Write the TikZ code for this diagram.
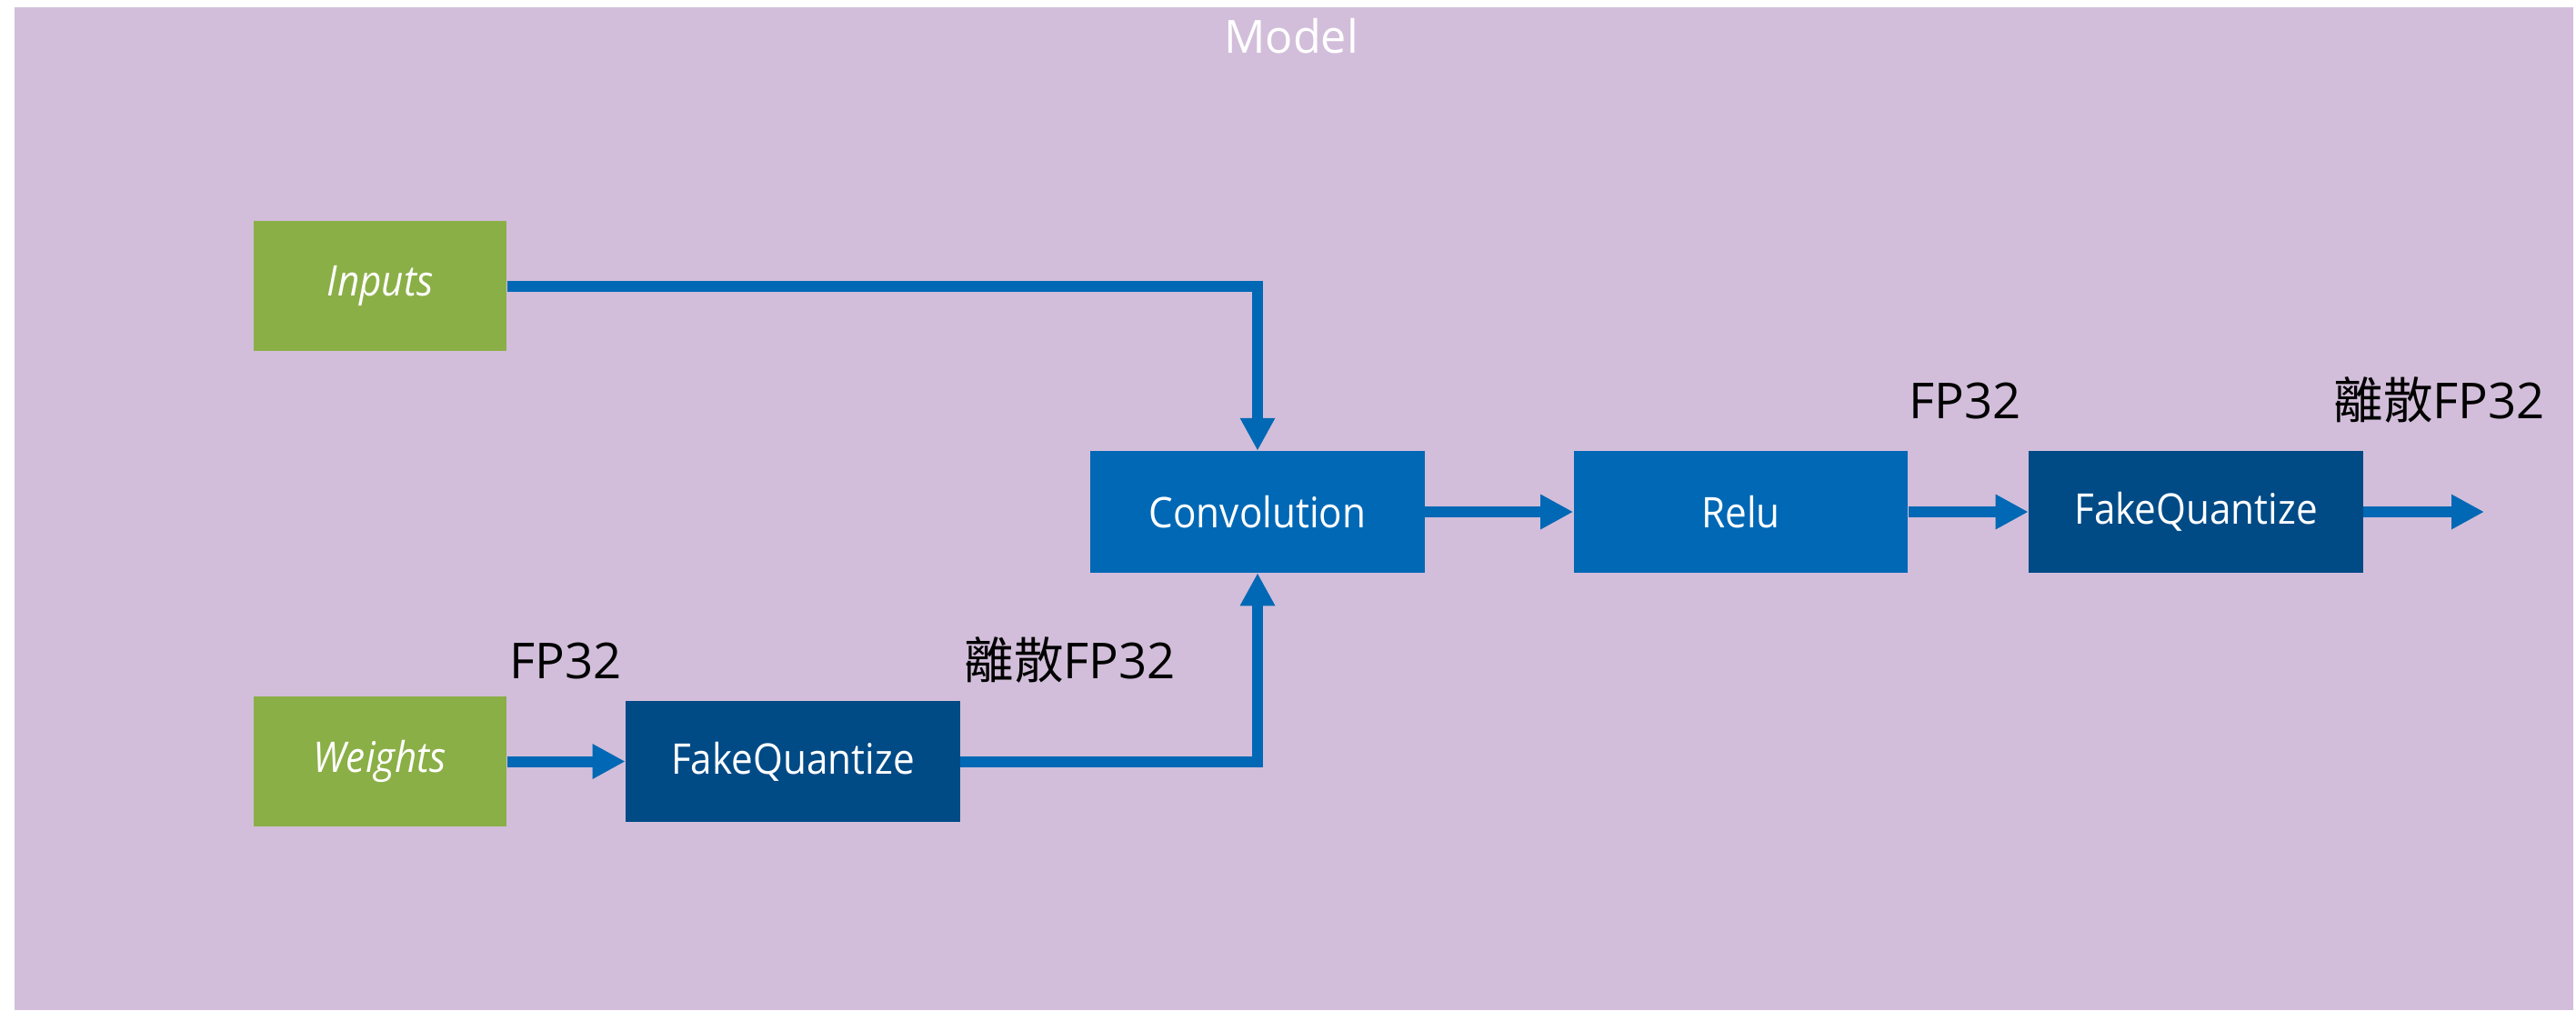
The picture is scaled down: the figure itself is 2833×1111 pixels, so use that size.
\documentclass[tikz,border=0pt]{standalone}
\usepackage{fontspec}
\setmainfont{Open Sans}
\newfontfamily\boxfont{Open Sans}[FakeStretch=0.91]
\newfontfamily\cjk{Noto Sans CJK TC}
\usetikzlibrary{arrows.meta}
\definecolor{bgpurple}{HTML}{D2BEDA}
\definecolor{boxgreen}{HTML}{8BAF47}
\definecolor{intelblue}{HTML}{0068B5}
\definecolor{darkblue}{HTML}{004A86}
\begin{document}
\begin{tikzpicture}[x=0.01cm,y=-0.01cm,
  box/.style={minimum width=3.67cm, minimum height=1.33cm, inner sep=0pt, text=white, font=\boxfont\fontsize{13.2}{15}\selectfont},
  inbox/.style={box, fill=boxgreen, minimum width=2.78cm, minimum height=1.43cm, font=\boxfont\itshape\fontsize{13.2}{15}\selectfont},
  opbox/.style={box, fill=intelblue},
  fqbox/.style={box, fill=darkblue},
  conn/.style={draw=intelblue, line width=0.12cm, -{Triangle[length=0.36cm,width=0.36cm]}},
  lbl/.style={font=\fontsize{15.5}{18}\selectfont, text=black, inner sep=0pt, anchor=base west},
  title/.style={font=\fontsize{14.3}{17}\selectfont, text=white, inner sep=0pt, anchor=base}
]
\useasboundingbox (0,0) rectangle (2833,1111);
\fill[bgpurple] (16,8) rectangle (2830,1111);
\node[title] (model) at (1420,58) {Model};
\node[inbox] (inputs) at (418,314.5) {Inputs};
\node[inbox] (weights) at (418,837.5) {Weights};
\node[fqbox] (fq1) at (872,837.5) {FakeQuantize};
\node[opbox] (conv) at (1383,563) {Convolution};
\node[opbox] (relu) at (1914.5,563) {Relu};
\node[fqbox] (fq2) at (2415,563) {FakeQuantize};
\coordinate (out) at (2732,563);
\draw[conn] (inputs.east) -| (conv.north);
\draw[conn] (weights.east) -- (fq1.west);
\draw[conn] (fq1.east) -| (conv.south);
\draw[conn] (conv.east) -- (relu.west);
\draw[conn] (relu.east) -- (fq2.west);
\draw[conn] (fq2.east) -- (out);
\node[lbl] (l1) at (560,746) {FP32};
\node[lbl] (l2) at (1060,746) {{\cjk 離散}FP32};
\node[lbl] (l3) at (2099,460) {FP32};
\node[lbl] (l4) at (2566,460) {{\cjk 離散}FP32};
\end{tikzpicture}
\end{document}
